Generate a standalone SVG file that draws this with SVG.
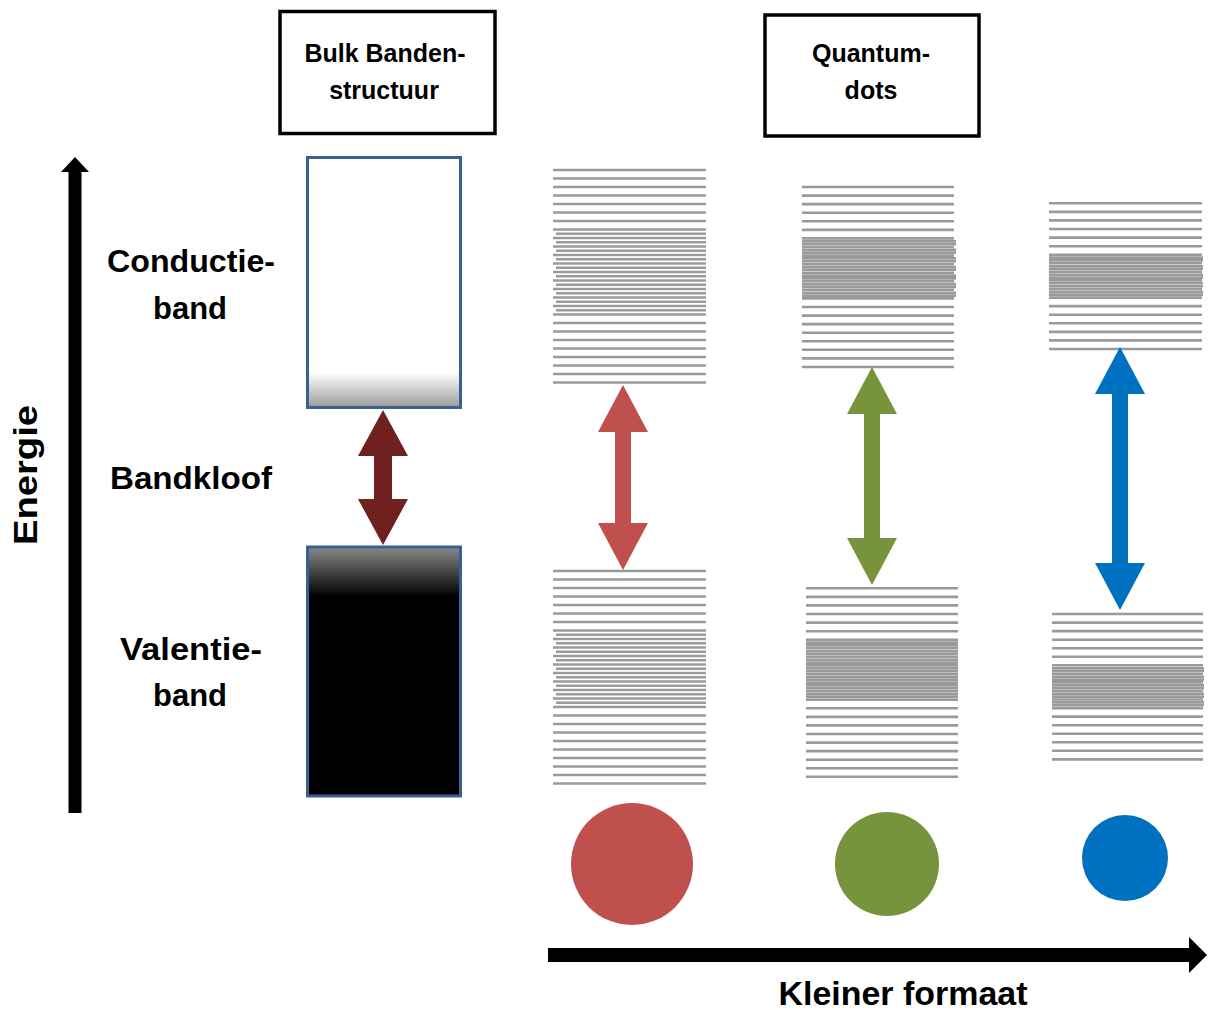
<svg xmlns="http://www.w3.org/2000/svg" width="1208" height="1010" viewBox="0 0 1208 1010">
<style>
.lbl{font-family:"Liberation Sans",Arial,sans-serif;font-weight:bold;fill:#000;text-anchor:middle}
.big{font-size:31px}
.small{font-size:25px}
.lines{stroke:#9a9a9a;stroke-width:2.6;fill:none}
.box{fill:#fff;stroke:#000;stroke-width:3.5}
.band{stroke:#3b5e96;stroke-width:3}
</style>
<defs>
<linearGradient id="cbGrad" x1="0" y1="0" x2="0" y2="1">
<stop offset="0" stop-color="#fff"/>
<stop offset="0.86" stop-color="#fff"/>
<stop offset="1" stop-color="#9a9a9a"/>
</linearGradient>
<linearGradient id="vbGrad" x1="0" y1="0" x2="0" y2="1">
<stop offset="0" stop-color="#8a8a8a"/>
<stop offset="0.2" stop-color="#000"/>
<stop offset="1" stop-color="#000"/>
</linearGradient>
</defs>
<rect width="1208" height="1010" fill="#fff"/>

<g id="title-bulk">
<rect class="box" x="280" y="11.5" width="215" height="122"/>
<text class="lbl small" x="385" y="62">Bulk Banden-</text>
<text class="lbl small" x="384" y="99">structuur</text>
</g>
<g id="title-qd">
<rect class="box" x="765" y="15" width="214" height="121"/>
<text class="lbl small" x="871" y="62">Quantum-</text>
<text class="lbl small" x="871" y="99">dots</text>
</g>

<g id="label-energie">
<text class="lbl" font-size="34" transform="translate(37,475) rotate(-90)" textLength="140" lengthAdjust="spacingAndGlyphs">Energie</text>
</g>
<g id="label-cb">
<text class="lbl big" x="191" y="272" textLength="168" lengthAdjust="spacingAndGlyphs">Conductie-</text>
<text class="lbl big" x="190" y="319" textLength="74" lengthAdjust="spacingAndGlyphs">band</text>
</g>
<g id="label-gap">
<text class="lbl big" x="191" y="489" textLength="162" lengthAdjust="spacingAndGlyphs">Bandkloof</text>
</g>
<g id="label-vb">
<text class="lbl big" x="191" y="660" textLength="142" lengthAdjust="spacingAndGlyphs">Valentie-</text>
<text class="lbl big" x="190" y="706" textLength="74" lengthAdjust="spacingAndGlyphs">band</text>
</g>

<g id="bulk-cb"><rect class="band" x="307.5" y="157.5" width="153" height="250" fill="url(#cbGrad)"/></g>
<g id="bulk-vb"><rect class="band" x="307.5" y="547" width="153" height="249" fill="url(#vbGrad)"/></g>

<g id="qd-red-cb">
<path class="lines" d="M553 170H706M553 178.5H706M553 187H706M553 195.5H706M553 204H706M553 212.5H706M553 221H706M553 229.5H706M553 238H706M553 246.5H706M553 255H706M553 263.5H706M553 272H706M553 280.5H706M553 289H706M553 297.5H706M553 306H706M553 314.5H706M553 323H706M553 331.5H706M553 340H706M553 348.5H706M553 357H706M553 365.5H706M553 374H706M553 382.5H706"/>
<path class="lines" d="M556 233.75H706M556 242.25H706M556 250.75H706M556 259.25H706M556 267.75H706M556 276.25H706M556 284.75H706M556 293.25H706M556 301.75H706M556 310.25H706"/>
</g>
<g id="qd-red-vb">
<path class="lines" d="M553 571H706M553 579.5H706M553 588H706M553 596.5H706M553 605H706M553 613.5H706M553 622H706M553 630.5H706M553 639H706M553 647.5H706M553 656H706M553 664.5H706M553 673H706M553 681.5H706M553 690H706M553 698.5H706M553 707H706M553 715.5H706M553 724H706M553 732.5H706M553 741H706M553 749.5H706M553 758H706M553 766.5H706M553 775H706M553 783.5H706"/>
<path class="lines" d="M556 634.75H706M556 643.25H706M556 651.75H706M556 660.25H706M556 668.75H706M556 677.25H706M556 685.75H706M556 694.25H706M556 702.75H706"/>
</g>
<g id="qd-green-cb">
<path class="lines" d="M802 187H954M802 195.6H954M802 204.1H954M802 212.7H954M802 221.3H954M802 229.9H954M802 238.4H954M802 247H954M802 255.6H954M802 264.1H954M802 272.7H954M802 281.3H954M802 289.8H954M802 298.4H954M802 307H954M802 315.6H954M802 324.1H954M802 332.7H954M802 341.3H954M802 349.8H954M802 358.4H954M802 367H954"/>
<path class="lines" d="M802 241.3H956M802 244.1H956M802 249.9H956M802 252.7H956M802 258.4H956M802 261.3H956M802 267H956M802 269.8H956M802 275.6H956M802 278.4H956M802 284.1H956M802 287H956M802 292.7H956M802 295.6H956"/>
</g>
<g id="qd-green-vb">
<path class="lines" d="M806 588.3H958M806 596.9H958M806 605.4H958M806 614H958M806 622.6H958M806 631.2H958M806 639.7H958M806 648.3H958M806 656.9H958M806 665.4H958M806 674H958M806 682.6H958M806 691.1H958M806 699.7H958M806 708.3H958M806 716.9H958M806 725.4H958M806 734H958M806 742.6H958M806 751.1H958M806 759.7H958M806 768.3H958M806 776.8H958"/>
<path class="lines" d="M806 642.6H958M806 645.4H958M806 651.2H958M806 654H958M806 659.7H958M806 662.6H958M806 668.3H958M806 671.1H958M806 676.9H958M806 679.7H958M806 685.4H958M806 688.3H958M806 694H958M806 696.9H958"/>
</g>
<g id="qd-blue-cb">
<path class="lines" d="M1049 203.3H1202M1049 211.9H1202M1049 220.4H1202M1049 229H1202M1049 237.6H1202M1049 246.2H1202M1049 254.7H1202M1049 263.3H1202M1049 271.9H1202M1049 280.4H1202M1049 289H1202M1049 297.6H1202M1049 306.1H1202M1049 314.7H1202M1049 323.3H1202M1049 331.9H1202M1049 340.4H1202M1049 349H1202"/>
<path class="lines" d="M1049 257.6H1203M1049 260.4H1203M1049 266.2H1203M1049 269H1203M1049 274.7H1203M1049 277.6H1203M1049 283.3H1203M1049 286.2H1203M1049 291.9H1203M1049 294.7H1203"/>
</g>
<g id="qd-blue-vb">
<path class="lines" d="M1052 614H1203M1052 622.6H1203M1052 631.1H1203M1052 639.7H1203M1052 648.2H1203M1052 656.8H1203M1052 665.3H1203M1052 673.9H1203M1052 682.4H1203M1052 691H1203M1052 699.5H1203M1052 708.1H1203M1052 716.6H1203M1052 725.2H1203M1052 733.7H1203M1052 742.3H1203M1052 750.8H1203M1052 759.4H1203"/>
<path class="lines" d="M1052 668.2H1204M1052 671H1204M1052 676.7H1204M1052 679.6H1204M1052 685.3H1204M1052 688.1H1204M1052 693.9H1204M1052 696.7H1204M1052 702.4H1204M1052 705.3H1204"/>
</g>

<g id="dot-red"><circle cx="632" cy="864" r="61" fill="#c0504d"/></g>
<g id="dot-green"><circle cx="887" cy="864" r="52" fill="#77933c"/></g>
<g id="dot-blue"><circle cx="1125" cy="858" r="43" fill="#0070c0"/></g>

<g id="connectors">
<polygon id="axis-energy" fill="#000" points="75,157 89,172 81.5,172 81.5,813 68.5,813 68.5,172 61,172"/>
<polygon id="axis-size" fill="#000" points="548,948 1189,948 1189,937 1207,955 1189,973 1189,962 548,962"/>
<polygon id="gap-bulk" fill="#70201f" points="383,410 408,456 392,456 392,499 408,499 383,545 358,499 374,499 374,456 358,456"/>
<polygon id="gap-red" fill="#c0504d" points="623,385 648,432 631,432 631,523 648,523 623,570 598,523 615,523 615,432 598,432"/>
<polygon id="gap-green" fill="#77933c" points="872,367 897,414 880,414 880,538 897,538 872,585 847,538 864,538 864,414 847,414"/>
<polygon id="gap-blue" fill="#0070c0" points="1120,347 1145,394 1128,394 1128,563 1145,563 1120,610 1095,563 1112,563 1112,394 1095,394"/>
</g>

<g id="label-size">
<text class="lbl" font-size="33" x="903" y="1005" textLength="249" lengthAdjust="spacingAndGlyphs">Kleiner formaat</text>
</g>
</svg>
